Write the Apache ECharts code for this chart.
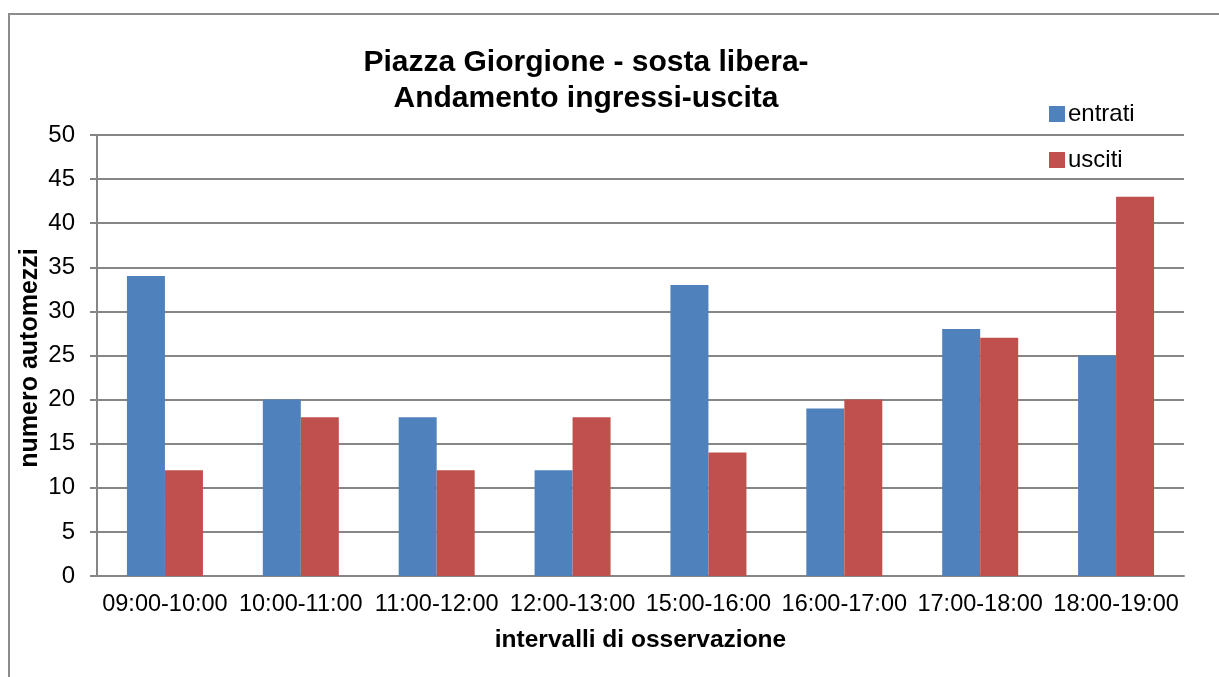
<!DOCTYPE html>
<html>
<head>
<meta charset="utf-8">
<script src="https://cdn.jsdelivr.net/npm/echarts@6/dist/echarts.min.js"></script>
<style>
  html, body { margin: 0; padding: 0; background: #fff; }
  #chart { width: 1219px; height: 677px; }
</style>
</head>
<body>
<div id="chart"></div>
<script>
/* ===== Piazza Giorgione - ingressi / uscite ===== */

const intervals = ['09:00-10:00', '10:00-11:00', '11:00-12:00', '12:00-13:00',
                   '15:00-16:00', '16:00-17:00', '17:00-18:00', '18:00-19:00'];
const entrati = [34, 20, 18, 12, 33, 19, 28, 25];
const usciti = [12, 18, 12, 18, 14, 20, 27, 43];
const yTicks = { min: 0, max: 50, interval: 5 };
const yAxisTitle = 'numero automezzi';

const theme = {
  font: '"Liberation Sans", Arial, sans-serif',
  text: '#000000',
  axis: '#868686',
  blue: '#4F81BD',
  red: '#C0504D',
};

const chart = echarts.init(document.getElementById('chart'));

chart.setOption({
  backgroundColor: '#ffffff',
  animation: false,
  textStyle: { fontFamily: theme.font },
  graphic: [
    {
      type: 'rect',
      silent: true,
      shape: { x: 9, y: 14, width: 1400, height: 900 },
      style: { fill: 'none', stroke: '#8c8c8c', lineWidth: 2 },
    },
    {
      // y axis title, placed by hand (v6 keeps pushing the axis name outward)
      type: 'text',
      silent: true,
      x: 30,
      y: 358,
      rotation: Math.PI / 2,
      style: {
        text: yAxisTitle,
        font: 'bold 25px ' + theme.font,
        fill: theme.text,
        align: 'center',
        verticalAlign: 'middle',
      },
    },
  ],
  title: {
    text: 'Piazza Giorgione - sosta libera-\nAndamento ingressi-uscita',
    left: 586,
    top: 45,
    textAlign: 'center',
    padding: 0,
    textStyle: {
      fontFamily: theme.font,
      fontSize: 30,
      fontWeight: 'bold',
      color: theme.text,
      lineHeight: 36,
    },
  },
  legend: {
    orient: 'vertical',
    left: 1049,
    top: 102,
    padding: 0,
    itemWidth: 16,
    itemHeight: 16,
    itemGap: 22,
    icon: 'rect',
    textStyle: { fontFamily: theme.font, fontSize: 24, color: theme.text, padding: [0, 0, 0, -2] },
    data: ['entrati', 'usciti'],
  },
  grid: { left: 97, right: 35, top: 135, bottom: 101 },
  xAxis: {
    type: 'category',
    data: intervals,
    name: 'intervalli di osservazione',
    nameLocation: 'middle',
    nameGap: 52,
    nameTextStyle: { fontFamily: theme.font, fontSize: 24.5, fontWeight: 'bold', color: theme.text },
    axisLine: { lineStyle: { color: theme.axis, width: 2 } },
    axisTick: { show: false },
    axisLabel: { color: theme.text, fontSize: 23.5, margin: 17, interval: 0 },
  },
  yAxis: {
    type: 'value',
    min: yTicks.min,
    max: yTicks.max,
    interval: yTicks.interval,
    axisLine: { show: true, lineStyle: { color: theme.axis, width: 2 } },
    axisTick: { show: true, length: 7, lineStyle: { color: theme.axis, width: 2 } },
    axisLabel: { color: theme.text, fontSize: 24, margin: 22 },
    splitLine: { lineStyle: { color: theme.axis, width: 2 } },
  },
  series: [
    {
      name: 'entrati',
      type: 'bar',
      data: entrati,
      barWidth: 38,
      barGap: '0%',
      itemStyle: { color: theme.blue },
    },
    {
      name: 'usciti',
      type: 'bar',
      data: usciti,
      barWidth: 38,
      itemStyle: { color: theme.red },
    },
  ],
});

window.addEventListener('resize', () => chart.resize());
</script>
</body>
</html>
